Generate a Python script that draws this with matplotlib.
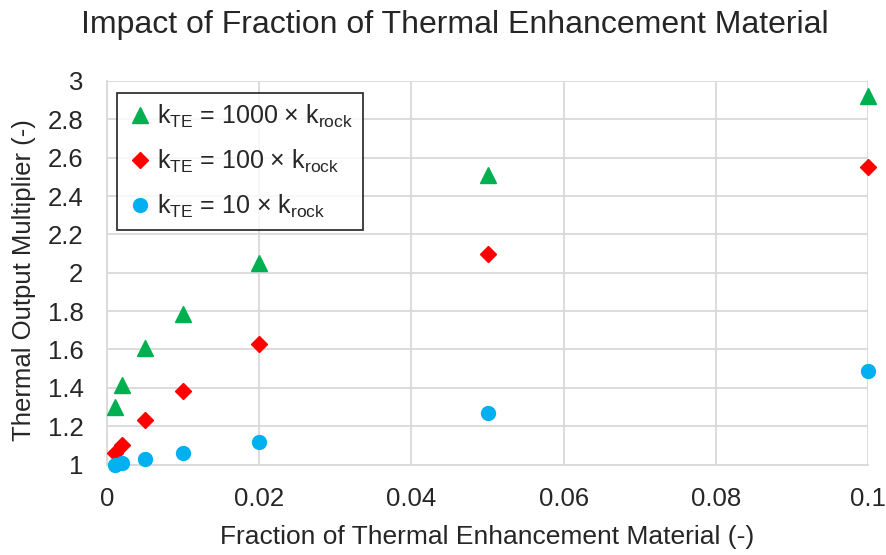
import matplotlib
matplotlib.use("Agg")
import matplotlib.pyplot as plt

plt.rcParams['font.family'] = ['Liberation Sans', 'DejaVu Sans']
plt.rcParams['mathtext.fontset'] = 'custom'
plt.rcParams['mathtext.rm'] = 'Liberation Sans'
plt.rcParams['mathtext.it'] = 'Liberation Sans'

# data
fraction = [0.001, 0.002, 0.005, 0.01, 0.02, 0.05, 0.1]
k1000 = [1.30, 1.415, 1.605, 1.785, 2.05, 2.51, 2.92]
k100 = [1.06, 1.10, 1.23, 1.385, 1.63, 2.10, 2.55]
k10 = [1.00, 1.01, 1.03, 1.06, 1.115, 1.27, 1.49]

xticks = [0, 0.02, 0.04, 0.06, 0.08, 0.1]
xticklabels = ['0', '0.02', '0.04', '0.06', '0.08', '0.1']
yticks = [1, 1.2, 1.4, 1.6, 1.8, 2, 2.2, 2.4, 2.6, 2.8, 3]
yticklabels = ['1', '1.2', '1.4', '1.6', '1.8', '2', '2.2', '2.4', '2.6', '2.8', '3']

labels = [r'k$_{\mathrm{TE}}$ = 1000 × k$_{\mathrm{rock}}$',
          r'k$_{\mathrm{TE}}$ = 100 × k$_{\mathrm{rock}}$',
          r'k$_{\mathrm{TE}}$ = 10 × k$_{\mathrm{rock}}$']

fig = plt.figure(figsize=(8.86, 5.55), dpi=100)
ax = fig.add_axes([107/886, 1-464.5/555, (868-107)/886, (464.5-81)/555])

ax.plot(fraction, k1000, '^', color='#00B050', markersize=11, label=labels[0], clip_on=False, zorder=3)
ax.plot(fraction, k100, 'D', color='#FF0000', markersize=8, label=labels[1], clip_on=False, zorder=3)
ax.plot(fraction, k10, 'o', color='#00B0F0', markersize=10, label=labels[2], clip_on=False, zorder=3)

ax.set_xlim(0, 0.1)
ax.set_ylim(1, 3)
ax.set_xticks(xticks)
ax.set_xticklabels(xticklabels)
ax.set_yticks(yticks)
ax.set_yticklabels(yticklabels)
ax.tick_params(length=0, labelsize=18.5, colors='#262626')
ax.tick_params(axis='x', pad=16)
ax.tick_params(axis='y', pad=17)
ax.grid(True, color='#d9d9d9', linewidth=1.3)
ax.set_axisbelow(True)
for s in ['top', 'right']:
    ax.spines[s].set_visible(False)
for s in ['left', 'bottom']:
    ax.spines[s].set_color('#d9d9d9')
    ax.spines[s].set_linewidth(1.3)

ax.set_xlabel('Fraction of Thermal Enhancement Material (-)', fontsize=19, color='#262626')
ax.xaxis.set_label_coords(487/886, 1-537/555, transform=fig.transFigure)
ax.set_ylabel('Thermal Output Multiplier (-)', fontsize=18.5, color='#262626')
ax.yaxis.set_label_coords(24/886, 1-280/555, transform=fig.transFigure)
for lab in [ax.xaxis.label, ax.yaxis.label]:
    lab.set_verticalalignment('center')
fig.text(455/886, 1-25/555, 'Impact of Fraction of Thermal Enhancement Material',
         fontsize=23, color='#262626', ha='center', va='center')

leg = ax.legend(loc='upper left', bbox_to_anchor=(117/886, 1-93/555), bbox_transform=fig.transFigure,
                fontsize=18, frameon=True, fancybox=False, edgecolor='black',
                handletextpad=0.2, borderpad=0.4, labelspacing=0.7, handlelength=1.0,
                borderaxespad=0)
leg.get_frame().set_linewidth(1.3)
for t in leg.get_texts():
    t.set_color('#262626')

fig.savefig('out.png', dpi=100)
